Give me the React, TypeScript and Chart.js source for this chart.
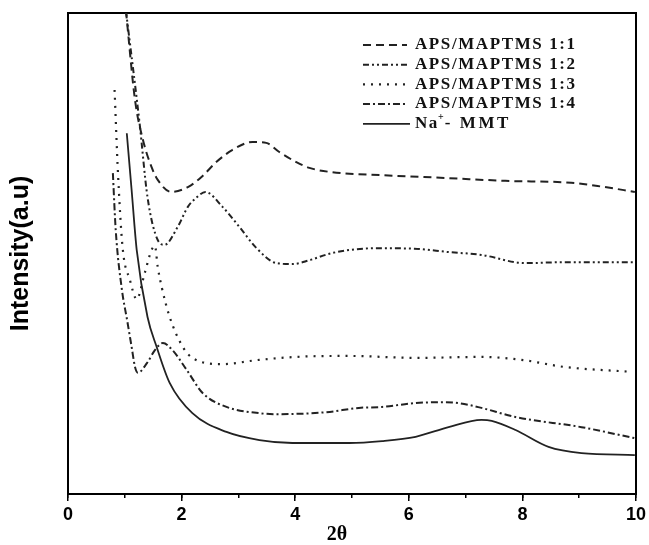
import React, { useEffect, useRef } from "react";
import { Chart, registerables } from "chart.js";

Chart.register(...registerables);

// ---- data ----
const LABELS = ["APS/MAPTMS 1:1", "APS/MAPTMS 1:2", "APS/MAPTMS 1:3", "APS/MAPTMS 1:4", "Na+- MMT"];
const X_TICK_STEP = 2;

const X_11 = [1.02, 1.18, 1.32, 1.47, 1.58, 1.82, 2.11, 2.35, 2.61, 2.89, 3.25, 3.49, 3.72, 4.02, 4.25, 4.65, 5.5, 6.65, 7.7, 8.86, 9.4, 9.98];
const Y_11 = [100.5, 81.9, 73.6, 68.0, 65.3, 62.8, 63.8, 65.9, 69.0, 71.5, 73.2, 73.0, 71.1, 69.0, 67.8, 66.9, 66.3, 65.7, 65.1, 64.7, 63.9, 62.8];

const X_12 = [1.02, 1.26, 1.4, 1.58, 1.7, 1.93, 2.11, 2.25, 2.42, 2.72, 3.02, 3.32, 3.67, 3.95, 4.25, 4.65, 5.42, 6.1, 6.7, 7.28, 8.05, 8.75, 9.98];
const Y_12 = [100.5, 77.1, 61.7, 52.8, 51.8, 55.5, 59.7, 61.5, 62.8, 59.7, 55.5, 51.1, 48.0, 47.8, 48.6, 50.1, 51.1, 51.0, 50.3, 49.7, 48.0, 48.2, 48.2];

const X_13 = [0.82, 0.88, 0.96, 1.09, 1.21, 1.35, 1.47, 1.53, 1.58, 1.65, 1.79, 2.02, 2.19, 2.72, 3.37, 4.2, 4.95, 6.12, 7.28, 7.98, 8.75, 9.91];
const Y_13 = [84.0, 66.7, 51.4, 44.5, 40.5, 45.9, 50.7, 51.6, 47.2, 43.0, 36.8, 30.6, 28.3, 27.0, 27.9, 28.6, 28.7, 28.3, 28.5, 27.9, 26.4, 25.4];

const X_14 = [0.79, 0.84, 0.95, 1.04, 1.12, 1.18, 1.23, 1.39, 1.53, 1.67, 1.84, 2.09, 2.37, 2.79, 3.37, 3.67, 4.54, 5.12, 5.53, 6.12, 6.58, 6.88, 7.28, 7.88, 9.04, 9.98];
const Y_14 = [66.7, 54.9, 42.4, 36.2, 30.6, 26.4, 25.2, 27.2, 29.9, 31.4, 29.9, 25.8, 21.0, 18.1, 16.8, 16.6, 17.0, 17.9, 18.1, 18.9, 19.1, 18.9, 17.9, 16.0, 13.9, 11.6];

const X_NA = [1.035, 1.12, 1.21, 1.4, 1.56, 1.79, 2.19, 2.79, 3.37, 3.95, 4.95, 5.53, 6.12, 6.7, 7.28, 7.46, 7.88, 8.46, 9.04, 9.98];
const Y_NA = [75.0, 63.2, 50.7, 36.8, 30.6, 23.1, 16.8, 12.9, 11.2, 10.6, 10.6, 11.0, 11.9, 13.9, 15.4, 15.2, 13.3, 9.8, 8.5, 8.1];

const toPoints = (xs: number[], ys: number[]) => xs.map((x, i) => ({ x, y: ys[i] }));

const INK = "#222";

const inlineLegend = {
  id: "inlineLegend",
  afterDatasetsDraw(chart: any) {
    const { ctx, chartArea } = chart;
    const lineX0 = chartArea.right - 273;
    const lineX1 = chartArea.right - 229;
    const textX = chartArea.right - 221;
    const top = chartArea.top + 32;
    const step = 19.7;
    ctx.save();
    chart.data.datasets.forEach((ds: any, i: number) => {
      const y = top + i * step;
      ctx.beginPath();
      ctx.setLineDash(ds.borderDash || []);
      ctx.lineWidth = ds.borderWidth;
      ctx.strokeStyle = ds.borderColor;
      ctx.moveTo(lineX0, y);
      ctx.lineTo(ds.borderDash && ds.borderDash.length ? lineX1 : lineX1 + 3, y);
      ctx.stroke();
      ctx.setLineDash([]);
      ctx.fillStyle = "#111";
      ctx.textBaseline = "middle";
      ctx.textAlign = "left";
      (ctx as any).letterSpacing = "1.6px";
      ctx.font = 'bold 17px "Liberation Serif"';
      const label: string = ds.label;
      const plus = label.indexOf("+");
      if (plus >= 0) {
        const a = label.slice(0, plus);
        const b = label.slice(plus + 1);
        ctx.fillText(a, textX, y);
        let x = textX + ctx.measureText(a).width;
        ctx.font = 'bold 10px "Liberation Serif"';
        (ctx as any).letterSpacing = "0px";
        ctx.fillText("+", x - 1, y - 6);
        x += ctx.measureText("+").width;
        ctx.font = 'bold 17px "Liberation Serif"';
        (ctx as any).letterSpacing = "2.6px";
        ctx.fillText(b, x, y);
      } else {
        ctx.fillText(label, textX, y);
      }
    });
    ctx.restore();
  },
};

export default function App() {
  const ref = useRef<HTMLCanvasElement | null>(null);

  useEffect(() => {
    if (!ref.current) return;
    const common = {
      borderColor: INK,
      pointRadius: 0,
      fill: false,
      cubicInterpolationMode: "monotone" as const,
    };
    const chart = new Chart(ref.current, {
      type: "line",
      data: {
        datasets: [
          { ...common, label: LABELS[0], data: toPoints(X_11, Y_11), borderWidth: 2, borderDash: [8, 5] },
          { ...common, label: LABELS[1], data: toPoints(X_12, Y_12), borderWidth: 2, borderDash: [6, 3, 2, 3, 2, 3] },
          { ...common, label: LABELS[2], data: toPoints(X_13, Y_13), borderWidth: 2.2, borderDash: [2, 6] },
          { ...common, label: LABELS[3], data: toPoints(X_14, Y_14), borderWidth: 2, borderDash: [7, 3, 2, 3] },
          { ...common, label: LABELS[4], data: toPoints(X_NA, Y_NA), borderWidth: 1.8, borderDash: [] },
        ],
      },
      options: {
        responsive: false,
        animation: false,
        events: [],
        layout: { padding: { top: 13, right: 11, left: 0, bottom: 0 } },
        plugins: { legend: { display: false }, tooltip: { enabled: false } },
        scales: {
          x: {
            type: "linear",
            position: "bottom",
            min: 0,
            max: 10,
            weight: 1,
            ticks: {
              stepSize: X_TICK_STEP,
              color: "#000",
              padding: 3,
              maxRotation: 0,
              font: { family: "Liberation Sans", weight: "bold", size: 18 },
            },
            grid: { display: true, drawOnChartArea: false, drawTicks: true, tickLength: 7, color: "#000", lineWidth: 1.5 },
            border: { display: true, color: "#000", width: 2 },
            title: {
              display: true,
              text: "2θ\u2002\u2002\u2002",
              color: "#000",
              font: { family: "Liberation Serif", weight: "bold", size: 20, lineHeight: 1 },
              padding: { top: 0, bottom: 0 },
            },
            afterFit: (s: any) => {
              s.height = 51;
            },
          },
          xMinor: {
            type: "linear",
            position: "bottom",
            min: 0,
            max: 10,
            weight: 0,
            ticks: { stepSize: 1, display: false },
            grid: { display: true, drawOnChartArea: false, drawTicks: true, tickLength: 4, color: "#000", lineWidth: 1.5 },
            border: { display: false },
            afterFit: (s: any) => {
              s.height = 0;
            },
          },
          xTop: {
            type: "linear",
            position: "top",
            min: 0,
            max: 10,
            ticks: { display: false },
            grid: { display: false },
            border: { display: true, color: "#000", width: 2 },
            afterFit: (s: any) => {
              s.height = 0;
            },
          },
          y: {
            type: "linear",
            position: "left",
            min: 0,
            max: 100,
            ticks: { display: false },
            grid: { display: false },
            border: { display: true, color: "#000", width: 2 },
            title: {
              display: true,
              text: "Intensity(a.u)",
              color: "#000",
              font: { family: "Liberation Sans", weight: "bold", size: 25, lineHeight: 1.2 },
              padding: { top: 6, bottom: 0 },
            },
            afterFit: (s: any) => {
              s.width = 68;
            },
          },
          yRight: {
            type: "linear",
            position: "right",
            min: 0,
            max: 100,
            ticks: { display: false },
            grid: { display: false },
            border: { display: true, color: "#000", width: 2 },
            afterFit: (s: any) => {
              s.width = 0;
            },
          },
        },
      } as any,
      plugins: [inlineLegend],
    });
    return () => chart.destroy();
  }, []);

  return (
    <div style={{ position: "absolute", left: 0, top: 0, width: 649, height: 545, background: "#fff" }}>
      <canvas ref={ref} width={649} height={545} style={{ display: "block" }} />
    </div>
  );
}
